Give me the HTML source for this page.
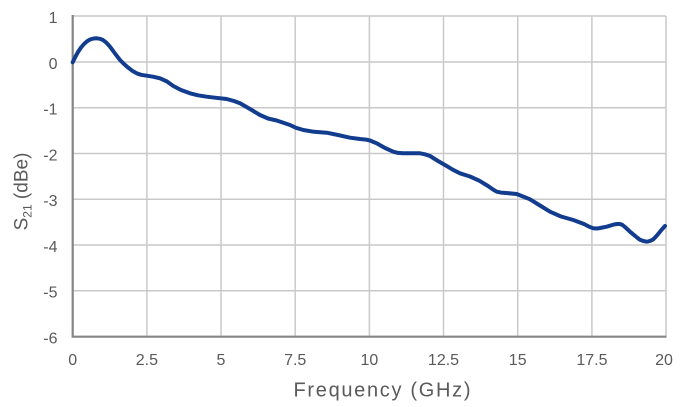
<!DOCTYPE html>
<html>
<head>
<meta charset="utf-8">
<style>
html,body{margin:0;padding:0;background:#fff;}
svg{display:block;}
text{font-family:"Liberation Sans",sans-serif;fill:#5a5a5a;}
</style>
</head>
<body>
<svg width="686" height="407" viewBox="0 0 686 407" xmlns="http://www.w3.org/2000/svg">
<rect width="686" height="407" fill="#fff"/>
<!-- horizontal grid -->
<g stroke="#c9c9c9" stroke-width="1.5">
<line x1="72.7" y1="16" x2="666" y2="16"/>
<line x1="72.7" y1="62" x2="666" y2="62"/>
<line x1="72.7" y1="107.7" x2="666" y2="107.7"/>
<line x1="72.7" y1="153.5" x2="666" y2="153.5"/>
<line x1="72.7" y1="199.3" x2="666" y2="199.3"/>
<line x1="72.7" y1="245" x2="666" y2="245"/>
<line x1="72.7" y1="290.8" x2="666" y2="290.8"/>
<!-- vertical grid -->
<line x1="146.9" y1="16" x2="146.9" y2="336.5"/>
<line x1="221" y1="16" x2="221" y2="336.5"/>
<line x1="295.2" y1="16" x2="295.2" y2="336.5"/>
<line x1="369.4" y1="16" x2="369.4" y2="336.5"/>
<line x1="443.5" y1="16" x2="443.5" y2="336.5"/>
<line x1="517.7" y1="16" x2="517.7" y2="336.5"/>
<line x1="591.9" y1="16" x2="591.9" y2="336.5"/>
<line x1="666" y1="16" x2="666" y2="336.5"/>
</g>
<!-- axes -->
<g stroke="#858585" stroke-width="2.2">
<line x1="72.7" y1="15" x2="72.7" y2="337.5"/>
<line x1="71.6" y1="336.7" x2="666.5" y2="336.7"/>
</g>
<!-- y tick labels -->
<g font-size="16" text-anchor="end">
<text x="57.5" y="23">1</text>
<text x="57.5" y="69">0</text>
<text x="57.5" y="114.5">-1</text>
<text x="57.5" y="160.5">-2</text>
<text x="57.5" y="206">-3</text>
<text x="57.5" y="252">-4</text>
<text x="57.5" y="297.5">-5</text>
<text x="57.5" y="343.5">-6</text>
</g>
<!-- x tick labels -->
<g font-size="16" text-anchor="middle">
<text x="72.7" y="365">0</text>
<text x="146.9" y="365">2.5</text>
<text x="221" y="365">5</text>
<text x="295.2" y="365">7.5</text>
<text x="369.4" y="365">10</text>
<text x="443.5" y="365">12.5</text>
<text x="517.7" y="365">15</text>
<text x="591.9" y="365">17.5</text>
<text x="664" y="365">20</text>
</g>
<!-- axis titles -->
<text x="293.5" y="396.5" font-size="20" textLength="177" lengthAdjust="spacing">Frequency (GHz)</text>
<text transform="translate(27.5,191.5) rotate(-90)" font-size="19" text-anchor="middle">S<tspan font-size="12" dy="4">21</tspan><tspan dy="-4"> (dBe)</tspan></text>
<!-- series -->
<polyline fill="none" stroke="#123c8e" stroke-width="4" stroke-linejoin="round" stroke-linecap="round" points="
72.7,62.3 75,57.5 78,52 81,47.5 84,44 87,41.3 90,39.5 93.5,38.5 96.7,38.3 100,38.8 103,40 106.5,42.8 110,46.7 115,53.5 120,60 124,64 128,67.5 132,70.6 136.7,73.3 141,74.8 146.7,75.7 153,76.7 160,78.3 167,81.5 173.3,86 181,90 190,93.3 198,95.3 206.7,96.7 216,97.8 226.7,99 234,101 240,103.3 250,109 260,115 268,118.5 276.7,120.5 290,125 296,127.8 303.3,130 314,131.8 326.7,132.7 338,135 350,137.7 360,139 366,139.6 370,140.5 373.5,142 376.7,143.3 385,148 393.3,151.7 398,152.9 403.3,153.3 420,153.3 425,154.3 430,156 438,161 446.7,166 453,169.8 460,173.3 470,176.5 479.3,180.7 488,186 493,189.5 496.7,191.7 501,192.6 506,193 516.7,194 523,196.5 530,199.3 540,205.5 550,211.7 561,216.5 573.3,220 584,224 589,226.6 593.3,228.3 597,228.5 600,228 606.7,226.7 614,224.5 617,224 620,224 622.5,225 625,227 630,231.7 637,237.5 640,239.8 643.3,241 646,241.6 648,241.5 651,240.6 653.3,239.3 656,236.5 659,233 662,229.3 665,226"/>
</svg>
</body>
</html>
